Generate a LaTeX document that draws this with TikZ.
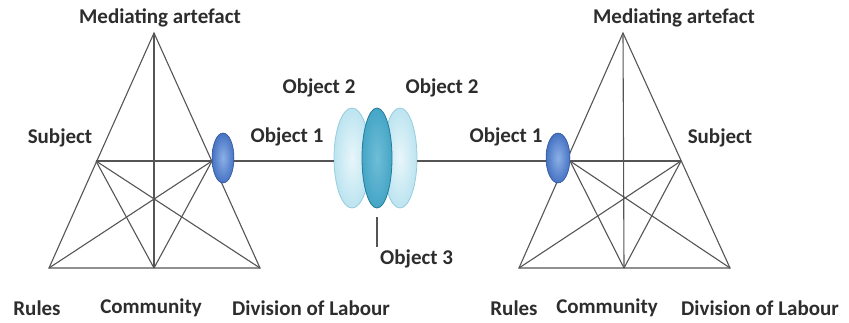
\documentclass[tikz,border=0pt]{standalone}
\usepackage{fontspec}
\setmainfont{Carlito}
\usetikzlibrary{shapes.geometric}
\definecolor{linegray}{RGB}{85,85,85}
\definecolor{txtgray}{RGB}{45,45,45}
\definecolor{objblue}{RGB}{70,115,195}
\definecolor{objblueL}{RGB}{140,175,230}
\definecolor{objblueD}{RGB}{40,75,145}
\definecolor{cyanL}{RGB}{188,228,240}
\definecolor{cyanLin}{RGB}{232,246,250}
\definecolor{cyanLedge}{RGB}{150,205,222}
\definecolor{cyanM}{RGB}{70,165,198}
\definecolor{cyanMin}{RGB}{110,190,215}
\definecolor{cyanMedge}{RGB}{35,125,155}
\begin{document}
\begin{tikzpicture}[x=1pt,y=-1pt,
  edge/.style={draw=linegray,line width=1.1pt},
  lbl/.style={text=txtgray,font=\fontsize{21}{25}\selectfont\bfseries,inner sep=0pt},
  focus/.style={ellipse,minimum width=22pt,minimum height=50pt,inner sep=0pt,
    draw=objblueD,line width=0.5pt,inner color=objblueL,outer color=objblue},
  lens/.style={ellipse,minimum width=36pt,minimum height=100pt,inner sep=0pt,
    draw=cyanLedge,line width=0.8pt,inner color=cyanLin,outer color=cyanL},
  core/.style={ellipse,minimum width=30pt,minimum height=100pt,inner sep=0pt,
    draw=cyanMedge,line width=0.8pt,inner color=cyanMin,outer color=cyanM}]
\useasboundingbox (0,0) rectangle (849,322);

% ---- left activity system ----
\coordinate (LA) at (154,33);
\coordinate (LS) at (96,161);
\coordinate (LO) at (212,161);
\coordinate (LBL) at (49,268);
\coordinate (LBM) at (154,268);
\coordinate (LBR) at (260,268);
\draw[edge] (LBL) -- (LA) -- (LBR) -- cycle;
\draw[edge] (LA) -- (LBM);
\draw[edge] (LS) -- (LO);
\draw[edge] (LS) -- (LBR);
\draw[edge] (LS) -- (LBM);
\draw[edge] (LO) -- (LBL);
\draw[edge] (LO) -- (LBM);

% ---- right activity system ----
\coordinate (RA) at (623,33);
\coordinate (RO) at (570,161);
\coordinate (RS) at (681,161);
\coordinate (RBL) at (519,268);
\coordinate (RBM) at (624,268);
\coordinate (RBR) at (730,268);
\draw[edge] (RBL) -- (RA) -- (RBR) -- cycle;
\draw[edge] (RA) -- (RBM);
\draw[edge] (RO) -- (RS);
\draw[edge] (RO) -- (RBR);
\draw[edge] (RO) -- (RBM);
\draw[edge] (RS) -- (RBL);
\draw[edge] (RS) -- (RBM);

% ---- shared object ----
\node[lens] (lensL) at (352,158) {};
\node[lens,minimum width=34pt] (lensR) at (400,158) {};
\node[core] (core) at (377,158) {};
\coordinate (o3top) at (377,217);
\coordinate (o3bot) at (377,247);
\draw[edge] (LO) -- (lensL.west |- LO);
\draw[edge] (lensR.east |- RO) -- (RO);
\draw[edge] (o3top) -- (o3bot);

% ---- object 1 markers ----
\node[focus] (objL) at (223,158) {};
\node[focus,minimum width=24pt] (objR) at (558,158) {};

% ---- labels ----
\node[lbl] (medL) at (160,18) {Mediating artefact};
\node[lbl] (medR) at (674,18) {Mediating artefact};
\node[lbl] (subL) at (60,138) {Subject};
\node[lbl] (subR) at (720,138) {Subject};
\node[lbl] (ob1L) at (287,137) {Object 1};
\node[lbl] (ob1R) at (506,137) {Object 1};
\node[lbl] (ob2L) at (319,88) {Object 2};
\node[lbl] (ob2R) at (442,88) {Object 2};
\node[lbl,anchor=west] (ob3) at (380,259) {Object 3};
\node[lbl] (rulL) at (37,308) {Rules};
\node[lbl] (comL) at (151,308) {Community};
\node[lbl] (divL) at (311,308) {Division of Labour};
\node[lbl] (rulR) at (514,308) {Rules};
\node[lbl] (comR) at (607,308) {Community};
\node[lbl] (divR) at (760,308) {Division of Labour};
\end{tikzpicture}
\end{document}
